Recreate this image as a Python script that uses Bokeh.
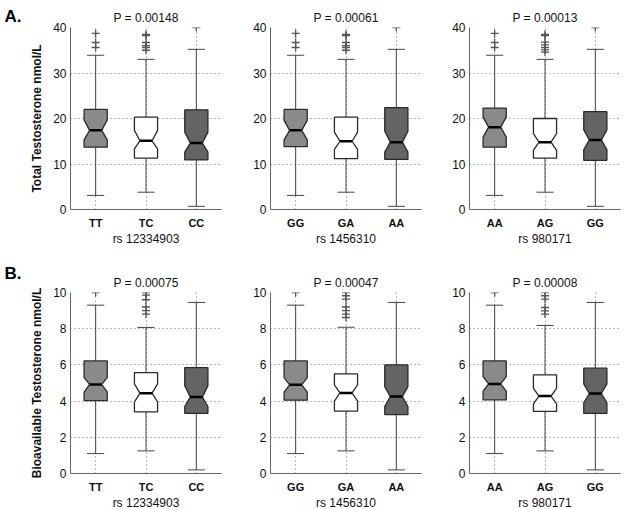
from bokeh.plotting import figure
from bokeh.layouts import column, row
from bokeh.models import FixedTicker, Label, Range1d
from bokeh.embed import file_html
from bokeh.resources import INLINE

# ---------------- data ----------------
genotypes = [["TT", "TC", "CC"], ["GG", "GA", "AA"], ["AA", "AG", "GG"]]
snps = ["rs 12334903", "rs 1456310", "rs 980171"]
p_total = ["P = 0.00148", "P = 0.00061", "P = 0.00013"]
p_bio = ["P = 0.00075", "P = 0.00047", "P = 0.00008"]
row_tags = ["A.", "B."]

# Total testosterone (nmol/L), per SNP panel, per genotype
tot_lo = [[3.1, 3.8, 0.7], [3.1, 3.8, 0.7], [3.1, 3.8, 0.7]]
tot_q1 = [[13.7, 11.3, 10.9], [13.8, 11.2, 11.0], [13.7, 11.3, 10.8]]
tot_med = [[17.4, 15.1, 14.6], [17.4, 15.0, 14.8], [18.1, 14.8, 15.3]]
tot_q3 = [[22.0, 20.3, 21.9], [22.0, 20.3, 22.4], [22.3, 20.0, 21.5]]
tot_hi = [[33.9, 33.0, 35.2], [33.9, 33.0, 35.2], [33.9, 33.0, 35.2]]
tot_nlo = [[15.3, 13.3, 12.6], [15.3, 13.2, 12.6], [15.9, 13.0, 13.1]]
tot_nhi = [[19.7, 17.4, 17.0], [19.6, 17.0, 17.2], [20.3, 16.7, 17.5]]
tot_out = [
    [[35.6, 36.7, 38.7], [35.0, 35.6, 36.0, 36.7, 38.2, 38.5], [40.0]],
    [[35.6, 36.7, 38.7], [35.0, 35.6, 36.0, 36.7, 38.2, 38.5], [40.0]],
    [[35.6, 36.7, 38.7], [34.6, 35.1, 35.6, 36.2, 36.8, 38.2, 38.5], [40.0]],
]

# Bioavailable testosterone (nmol/L)
bio_lo = [[1.1, 1.25, 0.2], [1.1, 1.25, 0.2], [1.1, 1.25, 0.2]]
bio_q1 = [[4.03, 3.40, 3.32], [4.05, 3.45, 3.25], [4.07, 3.43, 3.32]]
bio_med = [[4.92, 4.44, 4.22], [4.90, 4.45, 4.25], [4.95, 4.28, 4.42]]
bio_q3 = [[6.22, 5.57, 5.85], [6.22, 5.50, 6.00], [6.22, 5.45, 5.82]]
bio_hi = [[9.30, 8.07, 9.45], [9.30, 8.08, 9.45], [9.30, 8.18, 9.45]]
bio_nlo = [[4.50, 3.95, 3.70], [4.50, 4.00, 3.70], [4.55, 3.85, 3.90]]
bio_nhi = [[5.30, 4.95, 4.85], [5.30, 4.90, 4.80], [5.35, 4.70, 4.95]]
bio_out = [
    [[10.0], [8.8, 9.0, 9.2, 9.6, 9.85, 10.0], []],
    [[10.0], [8.62, 8.8, 9.0, 9.2, 9.63, 9.82, 10.0], []],
    [[10.0], [8.81, 8.99, 9.17, 9.63, 9.82, 10.0], []],
]

y_ticks_total = [0, 10, 20, 30, 40]
y_ticks_bio = [0, 2, 4, 6, 8, 10]

# ---------------- style ----------------
FONT = "Liberation Sans"
fills = ["#8a8a8a", "#ffffff", "#646464"]
BW, NW, CW = 0.23, 0.12, 0.17
FRAME_W = 151
lefts = [70, 35, 36]
rights = [14, 12, 3]


def make_panel(i, row_idx):
    if row_idx == 0:
        lo, q1, med, q3, hi, nlo, nhi, outs = (tot_lo[i], tot_q1[i], tot_med[i], tot_q3[i],
                                               tot_hi[i], tot_nlo[i], tot_nhi[i], tot_out[i])
        yt, ymax, title = y_ticks_total, 40, p_total[i]
        ylabel = "Total Testosterone nmol/L"
        top, fh, bottom = 27, 182, 48
    else:
        lo, q1, med, q3, hi, nlo, nhi, outs = (bio_lo[i], bio_q1[i], bio_med[i], bio_q3[i],
                                               bio_hi[i], bio_nlo[i], bio_nhi[i], bio_out[i])
        yt, ymax, title = y_ticks_bio, 10, p_bio[i]
        ylabel = "Bioavailable Testosterone nmol/L"
        top, fh, bottom = 35, 181, 35

    p = figure(frame_width=FRAME_W, frame_height=fh,
               x_range=Range1d(0.5, 3.5), y_range=Range1d(0, ymax),
               output_backend="svg", toolbar_location=None,
               min_border_left=lefts[i], min_border_right=rights[i],
               min_border_top=top, min_border_bottom=bottom)
    p.outline_line_color = None
    p.background_fill_color = "white"
    p.border_fill_color = "white"

    p.title.text = title
    p.title.align = "center"
    p.title.text_font = FONT
    p.title.text_font_size = "12px"
    p.title.text_font_style = "normal"
    p.title.text_color = "#111111"
    p.title.standoff = 5

    xs_pos = [1, 2, 3]
    p.xaxis.ticker = FixedTicker(ticks=xs_pos)
    p.xaxis.major_label_overrides = {k + 1: g for k, g in enumerate(genotypes[i])}
    p.xaxis.major_label_text_font = FONT
    p.xaxis.major_label_text_font_style = "bold"
    p.xaxis.major_label_text_font_size = "11px"
    p.xaxis.major_label_text_color = "#111111"
    p.xaxis.major_tick_in = 0
    p.xaxis.major_tick_out = 0
    p.xaxis.minor_tick_line_color = None
    p.xaxis.major_label_standoff = 7
    p.xaxis.axis_label = snps[i]
    p.xaxis.axis_label_text_font = FONT
    p.xaxis.axis_label_text_font_style = "normal"
    p.xaxis.axis_label_text_font_size = "12px"
    p.xaxis.axis_label_text_color = "#111111"
    p.xaxis.axis_label_standoff = 0
    p.xaxis.axis_line_color = "#666666"

    p.yaxis.ticker = FixedTicker(ticks=yt)
    p.yaxis.major_label_text_font = FONT
    p.yaxis.major_label_text_font_size = "12px"
    p.yaxis.major_label_text_color = "#111111"
    p.yaxis.major_tick_in = 0
    p.yaxis.major_tick_out = 0
    p.yaxis.minor_tick_line_color = None
    p.yaxis.major_label_standoff = 4
    p.yaxis.axis_line_color = "#666666"
    if i == 0:
        p.yaxis.axis_label = ylabel
        p.yaxis.axis_label_text_font = FONT
        p.yaxis.axis_label_text_font_style = "bold"
        p.yaxis.axis_label_text_font_size = "12px"
        p.yaxis.axis_label_text_color = "#111111"
        p.yaxis.axis_label_standoff = 6

    for g in (p.xgrid, p.ygrid):
        g.grid_line_color = "#777777"
        g.grid_line_dash = "1 3"
        g.grid_line_width = 1
    p.xgrid.ticker = FixedTicker(ticks=xs_pos)
    p.ygrid.ticker = FixedTicker(ticks=yt)

    # whiskers
    p.segment(x0=xs_pos, y0=q3, x1=xs_pos, y1=hi, line_color="#444444", line_width=1)
    p.segment(x0=xs_pos, y0=q1, x1=xs_pos, y1=lo, line_color="#444444", line_width=1)
    p.segment(x0=[x - CW for x in xs_pos], y0=hi, x1=[x + CW for x in xs_pos], y1=hi,
              line_color="#444444", line_width=1)
    p.segment(x0=[x - CW for x in xs_pos], y0=lo, x1=[x + CW for x in xs_pos], y1=lo,
              line_color="#444444", line_width=1)

    # notched boxes
    pxs, pys = [], []
    for k, x in enumerate(xs_pos):
        pxs.append([x - BW, x - BW, x - NW, x - BW, x - BW, x + BW, x + BW, x + NW, x + BW, x + BW])
        pys.append([q1[k], nlo[k], med[k], nhi[k], q3[k], q3[k], nhi[k], med[k], nlo[k], q1[k]])
    p.patches(xs=pxs, ys=pys, fill_color=fills, line_color="#2a2a2a", line_width=1.3)
    p.segment(x0=[x - NW for x in xs_pos], y0=med, x1=[x + NW for x in xs_pos], y1=med,
              line_color="#000000", line_width=2.5)

    # outliers
    ox, oy = [], []
    for k, x in enumerate(xs_pos):
        for v in outs[k]:
            ox.append(x)
            oy.append(v)
    p.scatter(x=ox, y=oy, marker="cross", size=8, line_color="#555555", line_width=1.3)

    if i == 0:
        # panel tag in the left side panel (not clipped to the frame)
        lab = Label(x=0.5, y=ymax, x_offset=-66, y_offset=(21 if row_idx == 0 else 29),
                    text=row_tags[row_idx], text_font=FONT,
                    text_font_style="bold", text_font_size="17px", text_baseline="top",
                    text_color="#000000")
        p.add_layout(lab, "left")
    return p


top_row = row(*[make_panel(i, 0) for i in range(3)])
bot_row = row(*[make_panel(i, 1) for i in range(3)])
layout = column(top_row, bot_row)

open("out.html", "w").write(file_html(layout, INLINE))
